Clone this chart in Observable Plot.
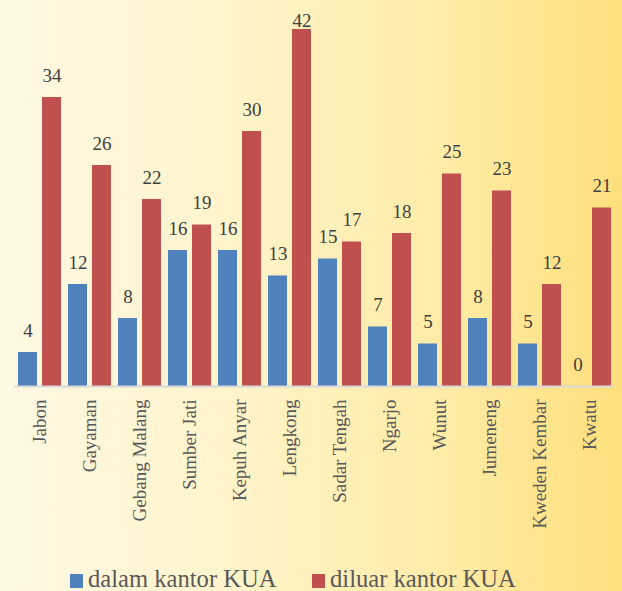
<!DOCTYPE html>
<html><head><meta charset="utf-8">
<script src="https://cdn.jsdelivr.net/npm/d3@7"></script>
<script src="https://cdn.jsdelivr.net/npm/@observablehq/plot@0.6"></script>
<style>
html,body{margin:0;padding:0;}
body{width:622px;height:591px;overflow:hidden;position:relative;
 background:linear-gradient(to right,#FFF8E3 0%,#FFF4CC 35%,#FFECA8 70%,#FFDF7C 100%);
 font-family:"Liberation Serif",serif;color:#595959;}
#chart{position:absolute;left:0;top:0;}
.leg{position:absolute;top:564px;font-size:24.6px;line-height:30px;white-space:nowrap;color:#595959;font-family:"Liberation Serif",serif;}
.sw{position:absolute;width:13px;height:14px;top:574px;}
</style></head><body>
<div id="chart"></div>
<div class="sw" id="sw0" style="left:70px;"></div><div class="leg" id="lg0" style="left:88px;"></div>
<div class="sw" id="sw1" style="left:312px;"></div><div class="leg" id="lg1" style="left:330px;"></div>
<script>
const categories = ["Jabon","Gayaman","Gebang Malang","Sumber Jati","Kepuh Anyar","Lengkong","Sadar Tengah","Ngarjo","Wunut","Jumeneng","Kweden Kembar","Kwatu"];
const dalam = [4,12,8,16,16,13,15,7,5,8,5,0];
const diluar = [34,26,22,19,30,42,17,18,25,23,12,21];
const seriesNames = ["dalam kantor KUA","diluar kantor KUA"];
const colors = ["#4F81BD","#C0504D"];

const data = categories.flatMap((c,i)=>[
  {cat:c, series:seriesNames[0], value:dalam[i]},
  {cat:c, series:seriesNames[1], value:diluar[i]}
]);
const maxVal = d3.max(data, d=>d.value);

const chart = Plot.plot({
  width:622, height:560,
  marginLeft:14, marginRight:8, marginTop:29, marginBottom:174,
  style:{background:"transparent", fontFamily:"'Liberation Serif', serif", fontSize:"19px", color:"#595959"},
  fx:{domain:categories, padding:0, label:null, tickRotate:-90, tickSize:0, tickPadding:13, axis:"bottom"},
  x:{domain:seriesNames, paddingInner:0.21, paddingOuter:0.146, axis:null},
  y:{domain:[0,maxVal], axis:null},
  color:{domain:seriesNames, range:colors},
  marks:[
    Plot.barY(data,{fx:"cat", x:"series", y:"value", fill:"series"}),
    Plot.ruleY([0],{stroke:"#D9D9D9", strokeWidth:2}),
    Plot.text(data.filter(d=>d.value<maxVal),{fx:"cat", x:"series", y:"value", text:d=>String(d.value), dy:-22, fill:"#404040", fontSize:19}),
    Plot.text(data.filter(d=>d.value===maxVal),{fx:"cat", x:"series", y:"value", text:d=>String(d.value), dy:-9, fill:"#404040", fontSize:19})
  ]
});
document.getElementById("chart").appendChild(chart);
seriesNames.forEach((s,i)=>{
  document.getElementById("sw"+i).style.background = colors[i];
  document.getElementById("lg"+i).textContent = s;
});
</script>
</body></html>
